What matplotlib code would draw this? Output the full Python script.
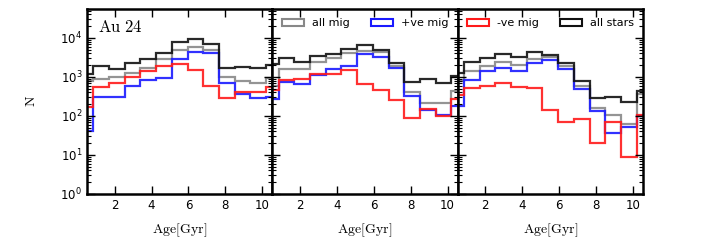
import numpy as np
import matplotlib
matplotlib.use("Agg")
import matplotlib.pyplot as plt
from matplotlib.patches import Patch
from matplotlib.ticker import LogLocator

# Bin edges (Gyr)
age_edges = [0.0, 0.85, 1.7, 2.55, 3.4, 4.25, 5.1, 5.95, 6.8, 7.65, 8.5, 9.35, 10.2, 11.05]

# Panel 1 (Au 24 - first radial bin)
p1_all_stars = [1200, 1850, 1580, 2240, 2900, 4200, 8000, 9300, 7100, 1740, 1800, 1660, 2000]
p1_all_mig   = [780, 880, 1000, 1250, 1650, 2800, 4900, 6000, 4900, 1020, 770, 690, 930]
p1_pos_mig   = [42, 310, 310, 590, 840, 930, 2900, 4400, 4100, 710, 365, 285, 300]
p1_neg_mig   = [165, 550, 710, 980, 1380, 1950, 2150, 1480, 590, 295, 400, 410, 560]

# Panel 2
p2_all_stars = [2130, 3000, 2400, 3450, 3900, 5100, 6600, 4900, 2330, 760, 870, 710, 1050]
p2_all_mig   = [600, 1550, 1580, 2400, 3000, 4200, 4700, 4300, 1900, 400, 218, 218, 430]
p2_pos_mig   = [270, 760, 650, 1120, 1580, 1950, 3900, 3300, 1700, 325, 142, 105, 178]
p2_neg_mig   = [460, 830, 900, 1220, 1200, 1510, 660, 450, 257, 87, 150, 100, 275]

# Panel 3
p3_all_stars = [1250, 2400, 3100, 3900, 3150, 4250, 3650, 2240, 800, 285, 305, 230, 440]
p3_all_mig   = [800, 1380, 1900, 2460, 2040, 2830, 3200, 1850, 570, 156, 106, 61, 360]
p3_pos_mig   = [180, 830, 1380, 1740, 1420, 2240, 2770, 1610, 480, 137, 36, 51, 100]
p3_neg_mig   = [350, 510, 590, 690, 535, 510, 142, 69, 81, 20, 70, 9, 106]

panels = [
    (p1_all_mig, p1_pos_mig, p1_neg_mig, p1_all_stars),
    (p2_all_mig, p2_pos_mig, p2_neg_mig, p2_all_stars),
    (p3_all_mig, p3_pos_mig, p3_neg_mig, p3_all_stars),
]
series_labels = ["all mig", "+ve mig", "-ve mig", "all stars"]
series_colors = ["#888888", "#1a1aff", "#ff1a1a", "#111111"]
xtick_vals = [2, 4, 6, 8, 10]

fig, axes = plt.subplots(1, 3, figsize=(7.15, 2.4), dpi=100, sharey=True)
fig.subplots_adjust(left=0.1217, right=0.8993, bottom=0.192, top=0.9625, wspace=0)

for i, ax in enumerate(axes):
    for vals, col in zip(panels[i], series_colors):
        ax.stairs(vals, age_edges, color=col, lw=1.6, alpha=0.9)
    ax.set_yscale("log")
    ax.set_ylim(1, 5.5e4)
    ax.set_xlim(0.5, 10.55)
    ax.set_xticks(xtick_vals)
    ax.yaxis.set_major_locator(LogLocator(base=10, numticks=10))
    ax.yaxis.set_minor_locator(LogLocator(base=10, subs=np.arange(2, 10), numticks=10))
    ax.tick_params(which="both", direction="in", top=True, right=True, labelsize=8.5)
    ax.tick_params(which="major", length=6, width=1.0)
    ax.tick_params(which="minor", length=3, width=0.8)
    ax.tick_params(axis="x", which="minor", bottom=False, top=False)
    for s in ax.spines.values():
        s.set_linewidth(1.8)
    ax.set_xlabel(r"$\mathrm{Age[Gyr]}$", fontsize=10, math_fontfamily="cm", labelpad=7)
    if i > 0:
        ax.tick_params(axis="y", labelleft=False)

axes[0].set_ylabel(r"$\mathrm{N}$", fontsize=10, math_fontfamily="cm", labelpad=16)
axes[0].text(0.06, 0.9, r"$\mathrm{Au\ 24}$", transform=axes[0].transAxes,
             fontsize=12, math_fontfamily="cm", va="center", ha="left")

handles = [Patch(facecolor="none", edgecolor=c, lw=1.5, label=l)
           for c, l in zip(series_colors, series_labels)]
for ax, hs in ((axes[1], handles[:2]), (axes[2], handles[2:])):
    ax.legend(handles=hs, ncol=2, loc="upper left", frameon=False, fontsize=8,
              handlelength=2.0, handletextpad=0.7, columnspacing=1.9,
              borderaxespad=0.45, bbox_to_anchor=(0.0, 1.0))

fig.savefig("out.png", dpi=100)
